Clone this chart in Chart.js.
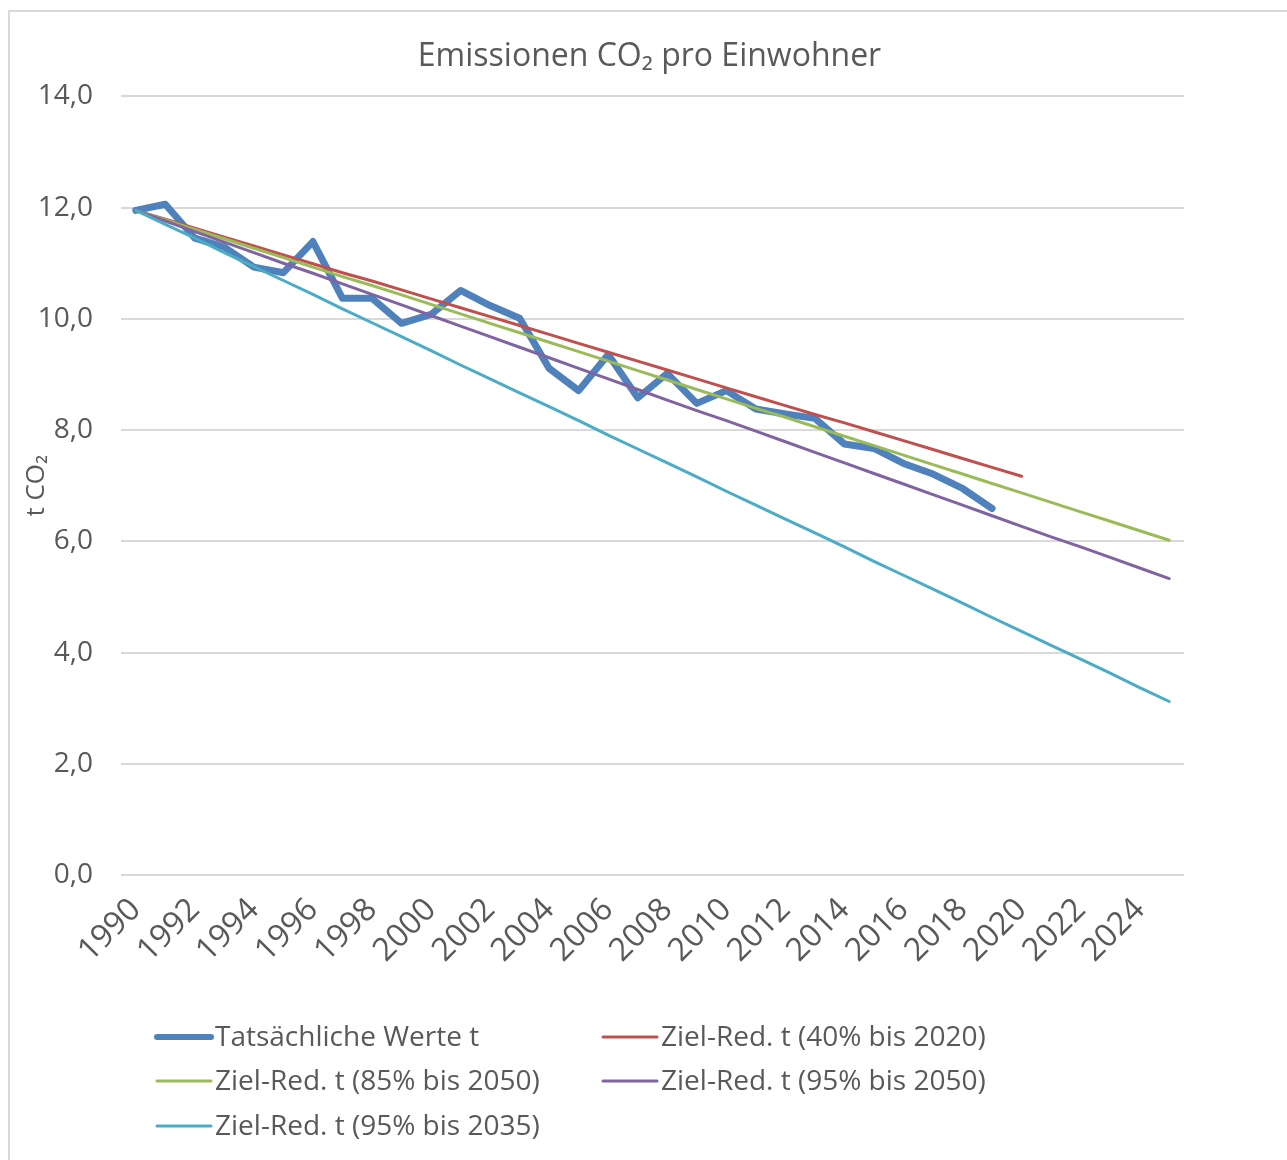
<!DOCTYPE html>
<html lang="de">
<head>
<meta charset="utf-8">
<title>Emissionen CO2 pro Einwohner</title>
<script src="https://cdn.jsdelivr.net/npm/chart.js@4.4.1/dist/chart.umd.min.js"></script>
<style>
  html, body { margin: 0; padding: 0; background: #fff; }
  #wrap { position: relative; width: 1287px; height: 1160px; }
</style>
</head>
<body>
<div id="wrap"><canvas id="chart_co2"></canvas></div>
<script>
// Jahre (Kategorien)
var years = [
  1990, 1991, 1992, 1993, 1994, 1995, 1996, 1997, 1998, 1999,
  2000, 2001, 2002, 2003, 2004, 2005, 2006, 2007, 2008, 2009,
  2010, 2011, 2012, 2013, 2014, 2015, 2016, 2017, 2018, 2019,
  2020, 2021, 2022, 2023, 2024, 2025
];

// t CO2 pro Einwohner
var tatsaechlich = [
  11.95, 12.06, 11.45, 11.29, 10.93, 10.83, 11.39, 10.37, 10.37, 9.92,
  10.08, 10.51, 10.24, 10.01, 9.11, 8.71, 9.36, 8.58, 9.02, 8.48,
  8.71, 8.38, 8.29, 8.21, 7.75, 7.67, 7.40, 7.21, 6.95, 6.59
];
var ziel40bis2020 = [
  11.95, 11.79, 11.63, 11.47, 11.31, 11.15, 10.99, 10.83, 10.68, 10.52,
  10.36, 10.20, 10.04, 9.88, 9.72, 9.56, 9.40, 9.24, 9.08, 8.92,
  8.76, 8.60, 8.44, 8.28, 8.13, 7.97, 7.81, 7.65, 7.49, 7.33,
  7.17
];
var ziel85bis2050 = [
  11.95, 11.78, 11.61, 11.44, 11.27, 11.10, 10.93, 10.76, 10.60, 10.43,
  10.26, 10.09, 9.92, 9.75, 9.58, 9.41, 9.24, 9.07, 8.90, 8.73,
  8.56, 8.39, 8.23, 8.06, 7.89, 7.72, 7.55, 7.38, 7.21, 7.04,
  6.87, 6.70, 6.53, 6.36, 6.19, 6.02
];
var ziel95bis2050 = [
  11.95, 11.76, 11.57, 11.38, 11.19, 11.00, 10.82, 10.63, 10.44, 10.25,
  10.06, 9.87, 9.68, 9.49, 9.30, 9.11, 8.92, 8.73, 8.54, 8.35,
  8.17, 7.98, 7.79, 7.60, 7.41, 7.22, 7.03, 6.84, 6.65, 6.46,
  6.27, 6.08, 5.90, 5.71, 5.52, 5.33
];
var ziel95bis2035 = [
  11.95, 11.70, 11.45, 11.19, 10.94, 10.69, 10.44, 10.18, 9.93, 9.68,
  9.43, 9.17, 8.92, 8.67, 8.42, 8.17, 7.91, 7.66, 7.41, 7.16,
  6.90, 6.65, 6.40, 6.15, 5.90, 5.64, 5.39, 5.14, 4.89, 4.63,
  4.38, 4.13, 3.88, 3.63, 3.37, 3.12
];

var textColor = '#595959';
var gridColor = '#d9d9d9';
Chart.defaults.font.family = "'Open Sans', 'DejaVu Sans', sans-serif";
Chart.defaults.color = textColor;

function line(label, data, color, width, legendWidth, order) {
  return {
    label: label,
    data: data,
    borderColor: color,
    backgroundColor: color,
    borderWidth: width,
    legendWidth: legendWidth,
    pointRadius: 0,
    pointHoverRadius: 0,
    tension: 0,
    borderJoinStyle: 'round',
    borderCapStyle: 'round',
    yAxisID: 'y',
    order: order
  };
}

// Legende wie in Excel: zwei Spalten, linksbuendig
var excelLegend = {
  id: 'excelLegend',
  afterDraw: function(chart) {
    var ctx = chart.ctx;
    var cols = [157, 603];
    var rows = [1037, 1081, 1126];
    ctx.save();
    ctx.font = "28px 'Open Sans'";
    ctx.textBaseline = 'middle';
    ctx.textAlign = 'left';
    chart.data.datasets.forEach(function(ds, i) {
      var x = cols[i % 2], y = rows[Math.floor(i / 2)];
      ctx.strokeStyle = ds.borderColor;
      ctx.lineWidth = ds.legendWidth;
      ctx.lineCap = 'round';
      ctx.beginPath();
      ctx.moveTo(x, y);
      ctx.lineTo(x + 54, y);
      ctx.stroke();
      ctx.fillStyle = textColor;
      ctx.fillText(ds.label, x + 58, y + 1);
    });
    ctx.restore();
  }
};

var frame = {
  id: 'frame',
  beforeDraw: function(chart) {
    var ctx = chart.ctx;
    ctx.save();
    ctx.fillStyle = 'white';
    ctx.fillRect(0, 0, chart.width, chart.height);
    ctx.strokeStyle = gridColor;
    ctx.lineWidth = 2;
    ctx.strokeRect(9, 11, chart.width + 20, chart.height + 20);
    ctx.restore();
  }
};

var chart_co2 = new Chart(document.getElementById('chart_co2'), {
  type: 'line',
  data: {
    labels: years,
    datasets: [
      line('Tatsächliche Werte t', tatsaechlich, '#4F81BD', 7, 6, 5),
      line('Ziel-Red. t (40% bis 2020)', ziel40bis2020, '#C0504D', 3, 3, 4),
      line('Ziel-Red. t (85% bis 2050)', ziel85bis2050, '#9BBB59', 3, 3, 3),
      line('Ziel-Red. t (95% bis 2050)', ziel95bis2050, '#8064A2', 3, 3, 2),
      line('Ziel-Red. t (95% bis 2035)', ziel95bis2035, '#4BACC6', 3, 3, 1)
    ]
  },
  options: {
    animation: false,
    responsive: true,
    maintainAspectRatio: false,
    layout: {
      padding: { left: 12, right: 0, top: 0, bottom: 187 }
    },
    plugins: {
      legend: { display: false },
      tooltip: { enabled: false },
      title: {
        display: true,
        text: 'Emissionen CO₂ pro Einwohner',
        color: textColor,
        font: { size: 32, weight: 'normal' },
        padding: { top: 38, bottom: 20 }
      }
    },
    scales: {
      x: {
        offset: true,
        grid: { display: false },
        border: { display: false },
        afterFit: function(scale) { scale.height = 98; },
        ticks: {
          autoSkip: false,
          minRotation: 45,
          maxRotation: 45,
          padding: 8,
          font: { size: 32 },
          color: textColor,
          callback: function(value, index) {
            return index % 2 === 0 ? String(years[index]) : '';
          }
        }
      },
      y: {
        min: 0,
        max: 14,
        afterFit: function(scale) { scale.width = 109; },
        grid: { color: gridColor, lineWidth: 2, drawTicks: false },
        border: { display: false },
        ticks: {
          stepSize: 2,
          padding: 28,
          font: { size: 28 },
          color: textColor,
          callback: function(value) {
            return value.toFixed(1).replace('.', ',');
          }
        },
        title: {
          display: true,
          text: 't CO₂',
          color: textColor,
          font: { size: 26 },
          padding: { top: 9, bottom: 0 }
        }
      },
      // leerer Platz rechts neben der Zeichenflaeche
      yRight: {
        position: 'right',
        display: true,
        min: 0,
        max: 14,
        afterFit: function(scale) { scale.width = 103; },
        grid: { display: false },
        border: { display: false },
        ticks: { display: false }
      }
    }
  },
  plugins: [frame, excelLegend]
});
</script>
</body>
</html>
